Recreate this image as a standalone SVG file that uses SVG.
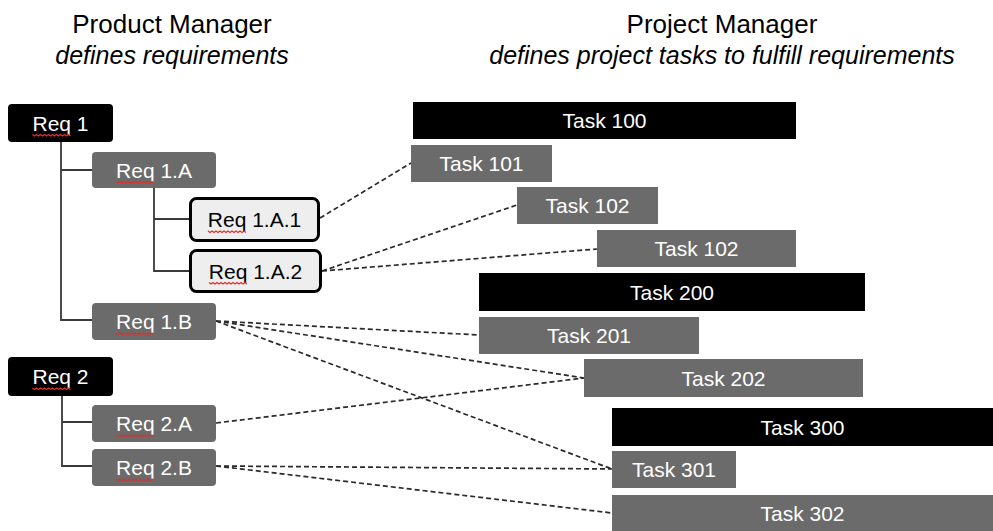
<svg xmlns="http://www.w3.org/2000/svg" width="993" height="531" viewBox="0 0 993 531">
<style>
.h{font-family:"Liberation Sans",Arial,sans-serif;font-size:26px;fill:#000;text-anchor:middle}
.s{font-family:"Liberation Sans",Arial,sans-serif;font-size:25px;font-style:italic;fill:#000;text-anchor:middle}
.t{font-family:"Liberation Sans",Arial,sans-serif;font-size:21px;fill:#fff;text-anchor:middle}
.td{font-family:"Liberation Sans",Arial,sans-serif;font-size:21px;fill:#000;text-anchor:middle}
.blk{fill:#000}
.gry{fill:#6b6b6b}
.lt{fill:#eeeeee;stroke:#000;stroke-width:3}
.tree{fill:none;stroke:#3a3a3a;stroke-width:1.8}
.dash{fill:none;stroke:#2a2a2a;stroke-width:1.7;stroke-dasharray:5 3}
.sq{fill:none;stroke:#e0302a;stroke-width:1.2}
</style>
<defs>
<path id="sq" d="M0,0 l2,1.5 l2,-1.5 l2,1.5 l2,-1.5 l2,1.5 l2,-1.5 l2,1.5 l2,-1.5 l2,1.5 l2,-1.5 l2,1.5 l2,-1.5 l2,1.5 l2,-1.5 l2,1.5 l2,-1.5 l2,1.5 l2,-1.5 l2,1.5"/>
</defs>

<g id="headers">
<text class="h" x="172" y="33">Product Manager</text>
<text class="s" x="172" y="64">defines requirements</text>
<text class="h" x="722" y="33">Project Manager</text>
<text class="s" x="722" y="64">defines project tasks to fulfill requirements</text>
</g>

<g id="connectors">
<path class="tree" d="M61,142 V320 H92 M61,170 H92"/>
<path class="tree" d="M154,188 V271 H189 M154,219 H189"/>
<path class="tree" d="M62,396 V466 H92 M62,422 H92"/>
<path class="dash" d="M320,218 L411,163"/>
<path class="dash" d="M322,271 L517,205"/>
<path class="dash" d="M322,271 L597,249"/>
<path class="dash" d="M216,321 L479,335"/>
<path class="dash" d="M216,321 L584,378"/>
<path class="dash" d="M216,321 L612,469"/>
<path class="dash" d="M216,423 L584,378"/>
<path class="dash" d="M216,466 L612,469"/>
<path class="dash" d="M216,466 L612,513"/>
</g>

<g id="req1"><rect class="blk" x="8" y="104" width="105" height="38" rx="4"/><text class="t" x="60.5" y="130.5">Req 1</text><use href="#sq" class="sq" x="32.5" y="134.5"/></g>
<g id="req1a"><rect class="gry" x="92" y="152" width="124" height="36" rx="4"/><text class="t" x="154" y="177.5">Req 1.A</text><use href="#sq" class="sq" x="116" y="181.5"/></g>
<g id="req1a1"><rect class="lt" x="190.5" y="198.5" width="128" height="42" rx="6"/><text class="td" x="254.5" y="227">Req 1.A.1</text><use href="#sq" class="sq" x="208" y="231"/></g>
<g id="req1a2"><rect class="lt" x="190.5" y="250.5" width="130" height="41" rx="6"/><text class="td" x="255.5" y="278.5">Req 1.A.2</text><use href="#sq" class="sq" x="209" y="282.5"/></g>
<g id="req1b"><rect class="gry" x="92" y="303" width="124" height="37" rx="4"/><text class="t" x="154" y="329">Req 1.B</text><use href="#sq" class="sq" x="116" y="333"/></g>
<g id="req2"><rect class="blk" x="8" y="357" width="105" height="39" rx="4"/><text class="t" x="60.5" y="384">Req 2</text><use href="#sq" class="sq" x="32.5" y="388"/></g>
<g id="req2a"><rect class="gry" x="92" y="405" width="124" height="37" rx="4"/><text class="t" x="154" y="431">Req 2.A</text><use href="#sq" class="sq" x="116" y="435"/></g>
<g id="req2b"><rect class="gry" x="92" y="449" width="124" height="37" rx="4"/><text class="t" x="154" y="475">Req 2.B</text><use href="#sq" class="sq" x="116" y="479"/></g>

<g id="task100"><rect class="blk" x="413" y="102" width="383" height="37"/><text class="t" x="604.5" y="128">Task 100</text></g>
<g id="task101"><rect class="gry" x="411" y="145" width="141" height="37"/><text class="t" x="481.5" y="171">Task 101</text></g>
<g id="task102a"><rect class="gry" x="517" y="187" width="141" height="37"/><text class="t" x="587.5" y="213">Task 102</text></g>
<g id="task102b"><rect class="gry" x="597" y="230" width="199" height="37"/><text class="t" x="696.5" y="256">Task 102</text></g>
<g id="task200"><rect class="blk" x="479" y="273" width="386" height="38"/><text class="t" x="672" y="299.5">Task 200</text></g>
<g id="task201"><rect class="gry" x="479" y="317" width="220" height="37"/><text class="t" x="589" y="343">Task 201</text></g>
<g id="task202"><rect class="gry" x="584" y="359" width="279" height="38"/><text class="t" x="723.5" y="385.5">Task 202</text></g>
<g id="task300"><rect class="blk" x="612" y="408" width="381" height="38"/><text class="t" x="802.5" y="434.5">Task 300</text></g>
<g id="task301"><rect class="gry" x="612" y="451" width="124" height="37"/><text class="t" x="674" y="477">Task 301</text></g>
<g id="task302"><rect class="gry" x="612" y="495" width="381" height="40"/><text class="t" x="802.5" y="521">Task 302</text></g>
</svg>
